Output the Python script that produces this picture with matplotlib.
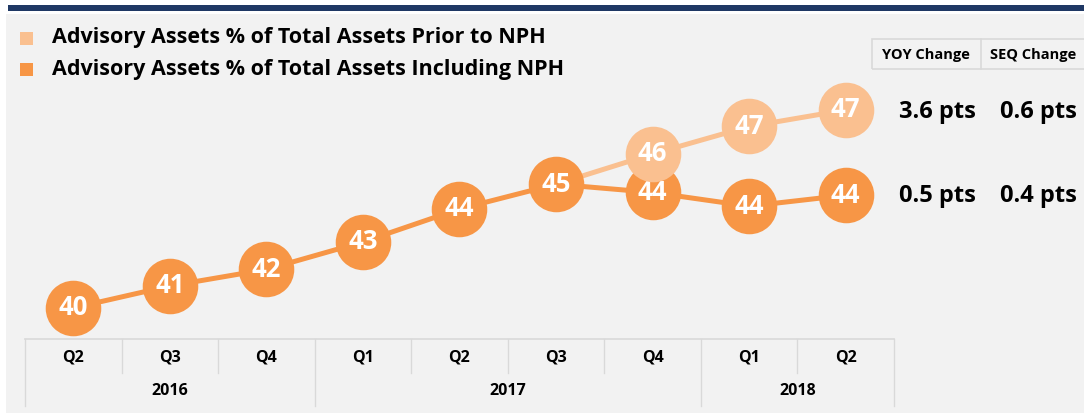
import matplotlib
matplotlib.use("Agg")
import matplotlib.pyplot as plt
from matplotlib.patches import Rectangle
from matplotlib.lines import Line2D

quarters = ["Q2", "Q3", "Q4", "Q1", "Q2", "Q3", "Q4", "Q1", "Q2"]
years = ["2016", "2017", "2018"]
year_spans = [(0, 2), (3, 6), (7, 8)]
including_nph = [40.1, 40.9, 41.5, 42.5, 43.7, 44.6, 44.3, 43.8, 44.2]
prior_nph = [None, None, None, None, None, 44.6, 45.7, 46.7, 47.3]
including_labels = ["40", "41", "42", "43", "44", "45", "44", "44", "44"]
prior_labels = ["", "", "", "", "", "", "46", "47", "47"]
legend_labels = ["Advisory Assets % of Total Assets Prior to NPH",
                 "Advisory Assets % of Total Assets Including NPH"]
table_header = ["YOY Change", "SEQ Change"]
change_prior = ["3.6 pts", "0.6 pts"]
change_incl = ["0.5 pts", "0.4 pts"]

DARK = "#F79646"
LIGHT = "#FAC090"
BG = "#F2F2F2"
GRID = "#D9D9D9"
FONT = ["Open Sans", "DejaVu Sans"]
plt.rcParams['font.family'] = FONT

W, H = 1084, 418
fig = plt.figure(figsize=(W / 100, H / 100), dpi=100)
fig.patch.set_facecolor("white")

def fx(px):
    return px / W

def fy(py):
    return 1 - py / H

# background panel and top bar
fig.add_artist(Rectangle((fx(6), fy(413)), fx(W - 6), (413 - 14) / H,
                         transform=fig.transFigure, facecolor=BG, edgecolor="none", zorder=0))
fig.add_artist(Rectangle((fx(8), fy(11)), fx(W - 8), 6 / H,
                         transform=fig.transFigure, facecolor="#1F3864", edgecolor="none", zorder=0))

ax = fig.add_axes([fx(25), fy(339), fx(894 - 25), (339 - 14) / H])
ax.set_facecolor("none")
for s in ax.spines.values():
    s.set_visible(False)
ax.set_xlim(-0.5, 8.5)
ax.set_ylim(38.97, 50.79)
ax.set_yticks([])
ax.set_xticks([])

xs = list(range(len(quarters)))
px_idx = [i for i, v in enumerate(prior_nph) if v is not None]
ax.plot(px_idx, [prior_nph[i] for i in px_idx], color=LIGHT, lw=3.6, zorder=1,
        solid_capstyle="butt")
ax.plot(xs, including_nph, color=DARK, lw=3.6, zorder=2)
ax.scatter(xs, including_nph, s=40 ** 2, color=DARK, zorder=3, linewidths=0)
for i, lab in enumerate(including_labels):
    ax.text(i, including_nph[i], lab, ha="center", va="center", color="white",
            fontsize=18.5, fontweight="bold", zorder=4)
pi = [i for i in px_idx if prior_labels[i]]
ax.scatter(pi, [prior_nph[i] for i in pi], s=40 ** 2, color=LIGHT, zorder=5, linewidths=0)
for i in pi:
    ax.text(i, prior_nph[i], prior_labels[i], ha="center", va="center", color="white",
            fontsize=18.5, fontweight="bold", zorder=6)

# category table
trans = ax.get_xaxis_transform()
def ya(py):
    return (339 - py) / (339 - 14)

ax.add_line(Line2D([-0.5, 8.5], [ya(339), ya(339)], transform=trans, color=GRID,
                   lw=1.2, clip_on=False))
year_bounds = [-0.5, 2.5, 6.5, 8.5]
for b in range(10):
    xb = b - 0.5
    bottom = 406 if xb in year_bounds else 373
    ax.add_line(Line2D([xb, xb], [ya(339), ya(bottom)], transform=trans, color=GRID,
                       lw=1.0, clip_on=False))
for i, q in enumerate(quarters):
    ax.text(i, ya(358), q, transform=trans, ha="center", va="center", fontsize=11.5,
            fontweight="bold", color="black")
for yl, (a, b) in zip(years, year_spans):
    ax.text((a + b) / 2, ya(391), yl, transform=trans, ha="center", va="center",
            fontsize=11.5, fontweight="bold", color="black")

# legend
for k, (lab, col) in enumerate(zip(legend_labels, [LIGHT, DARK])):
    yc = 38 + 31 * k
    fig.add_artist(Rectangle((fx(20), fy(yc + 6.5)), fx(13), 13 / H, transform=fig.transFigure,
                             facecolor=col, edgecolor="none"))
    fig.text(fx(52), fy(yc), lab, ha="left", va="center", fontsize=15.5, fontweight="bold",
             color="black")

# change table
fig.add_artist(Rectangle((fx(872), fy(69)), fx(W - 872 + 2), 30 / H, transform=fig.transFigure,
                         facecolor="none", edgecolor=GRID, lw=1.2))
fig.add_artist(Line2D([fx(981), fx(981)], [fy(69), fy(39)], transform=fig.transFigure,
                      color=GRID, lw=1.2))
fig.text(fx(926), fy(55), table_header[0], ha="center", va="center", fontsize=10.5,
         fontweight="bold")
fig.text(fx(1033), fy(55), table_header[1], ha="center", va="center", fontsize=10.5,
         fontweight="bold")
for yp, vals in [(112, change_prior), (196, change_incl)]:
    fig.text(fx(937), fy(yp), vals[0], ha="center", va="center", fontsize=17, fontweight="bold")
    fig.text(fx(1038), fy(yp), vals[1], ha="center", va="center", fontsize=17, fontweight="bold")

fig.savefig("out.png", dpi=100, facecolor=fig.get_facecolor())
